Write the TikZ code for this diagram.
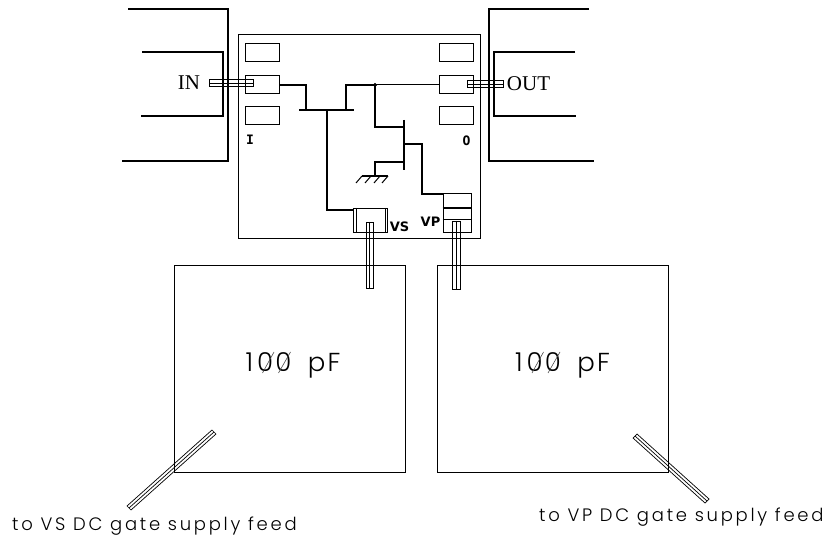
\documentclass[tikz,border=0pt]{standalone}
\usepackage{fontspec}
\newfontfamily\platefont[LetterSpace=8,WordSpace=1.8,UprightFont=* Light]{Poppins}
\newfontfamily\feedfont[LetterSpace=15.2,UprightFont=* Light]{Poppins}
\newfontfamily\padfont{DejaVu Sans Mono}
\newfontfamily\padsans{DejaVu Sans}
\newfontfamily\portfont{Liberation Serif}
\tikzset{
  pad/.style={draw, line width=0.8pt, rectangle, minimum width=34pt, minimum height=18pt, inner sep=0pt},
  wire/.style={line width=1.6pt},
  thinwire/.style={line width=1pt},
  bond/.style={draw, line width=0.7pt, fill=none},
  slash/.style={line width=0.6pt, black!70},
  padlabel/.style={font=\padfont\bfseries\fontsize{13}{13}\selectfont, inner sep=0pt},
  gatelabel/.style={font=\padsans\bfseries\fontsize{13}{13}\selectfont, inner sep=0pt},
  portlabel/.style={font=\portfont\fontsize{21}{21}\selectfont, inner sep=0pt},
  caplabel/.style={font=\platefont\fontsize{26}{26}\selectfont, inner sep=0pt},
  feedlabel/.style={font=\feedfont\fontsize{18}{18}\selectfont, inner sep=0pt, anchor=west}
}
\begin{document}
\begin{tikzpicture}[x=1pt,y=-1pt]
\useasboundingbox (0,0) rectangle (830,537);
% launchers
\draw [line width=2pt] (128,9) -- (228,9) -- (228,161) -- (122,161);
\draw [thinwire, line width=1.3pt] (142,52) -- (223,52) -- (223,116) -- (141,116);
\draw [line width=2pt] (589,9) -- (489,9) -- (489,161) -- (594,161);
\draw [thinwire, line width=1.3pt] (575,52) -- (494,52) -- (494,116) -- (576,116);
% chip
\draw [line width=0.9pt] (238.5,34) rectangle (480,238);
\node [pad] (padia) at (262,52) {};
\node [pad] (padib) at (262,84) {};
\node [pad] (padic) at (262,115.5) {};
\node [pad] (padoa) at (456,52) {};
\node [pad] (padob) at (456,84) {};
\node [pad] (padoc) at (456,115.5) {};
\node [padlabel] (labi) at (250,140) {I};
\node [padlabel] (labo) at (466.5,141) {O};
% capacitors
\draw [thinwire] (174,266) rectangle (405,472);
\draw [thinwire] (437,266) rectangle (668,472);
\node [caplabel] (capa) at (293,365) {1\kern4pt 00 pF};
\node [caplabel] (capb) at (562.5,365) {1\kern4pt 00 pF};
\draw [slash] (262.5,373) -- (274,352) (278.5,373) -- (290.5,352);
\draw [slash] (532,373) -- (543.5,352) (548,373) -- (560,352);
% wires
\coordinate (busl) at (306,110);
\coordinate (busr) at (346,110);
\coordinate (busm) at (327,110);
\coordinate (tap) at (375,85);
\coordinate (gnd) at (375,176);
\draw [wire] (padib.east |- 0,85) -- (306,85) -- (busl);
\draw [wire, line width=2.2pt] (299,110) -- (354,110);
\draw [wire] (busr) -- (346,85) -- (tap);
\draw [thinwire] (tap) -- (439,85);
\draw [fill] (tap) circle [radius=1.8pt];
\draw [wire] (tap) -- (375,127) -- (404,127);
\draw [wire] (404,120) -- (404,170);
\draw [wire] (404,144) -- (422,144) -- (422,194) -- (443,194);
\draw [wire] (404,162) -- (375,162) -- (gnd);
\draw [wire] (362,176) -- (388,176);
\draw [thinwire] (362,176) -- (356,183) (371,176) -- (365,183) (380,176) -- (374,183) (388,176) -- (382,183);
\draw [thinwire, line width=1.2pt] (busm) -- (327,210) -- (354,210);
% VS pad
\node [pad, minimum width=33.5pt, minimum height=24pt] (padvs) at (370.5,220) {};
\draw [thinwire] (356.5,208) -- (356.5,232) (385,208) -- (385,232);
\node [gatelabel] (labvs) at (399.5,227) {VS};
% VP pad
\node [pad, minimum width=28pt, minimum height=39pt] (padvp) at (457,212.5) {};
\draw [line width=1.3pt] (padvp.west |- 0,208) -- (padvp.east |- 0,208);
\draw [thinwire] (padvp.west |- 0,220) -- (padvp.east |- 0,220);
\node [gatelabel] (labvp) at (430.5,222) {VP};
% bond wires
\draw [bond] (209,79.5) rectangle (253,86.5) (209,83) -- (253,83);
\draw [bond] (467,80.5) rectangle (503,87) (467,84) -- (503,84);
\draw [bond] (366,222) rectangle (373,288) (369.5,222) -- (369.5,288);
\draw [bond] (452.5,221) rectangle (460,289) (456,221) -- (456,289);
\draw [bond] (212,430) -- (216,434) -- (131,510) -- (127,506) -- cycle (214,432) -- (129,508);
\draw [bond] (637,434) -- (633,438) -- (705,503) -- (709,499) -- cycle (635,436) -- (707,501);
% labels
\node [portlabel] (labin) at (189,83) {IN};
\node [portlabel] (labout) at (528.5,84) {OUT};
\node [feedlabel] (feedvs) at (12,526) {to VS DC gate supply feed};
\node [feedlabel] (feedvp) at (539,517) {to VP DC gate supply feed};
\end{tikzpicture}
\end{document}
